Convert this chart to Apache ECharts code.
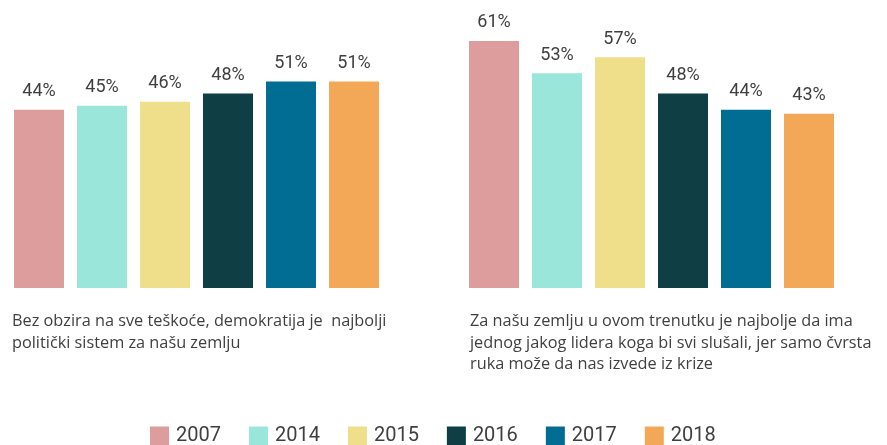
<!DOCTYPE html>
<html>
<head>
<meta charset="utf-8">
<script src="https://cdn.jsdelivr.net/npm/echarts@6/dist/echarts.min.js"></script>
<style>
  html, body { margin: 0; padding: 0; background: #ffffff; }
  #chart { width: 887px; height: 445px; }
</style>
</head>
<body>
<div id="chart"></div>
<script>
// Survey years (one series per year)
const years = ['2007', '2014', '2015', '2016', '2017', '2018'];
const yearColors = ['#dc9d9c', '#9ae6da', '#efde8a', '#0f3f44', '#026d92', '#f3a858'];

// Share of respondents who agree with each statement (%)
const democracyValues = [44, 45, 46, 48, 51, 51];
const strongLeaderValues = [61, 53, 57, 48, 44, 43];

// Statement captions shown below each group
const democracyCaption = 'Bez obzira na sve teškoće, demokratija je  najbolji\npolitički sistem za našu zemlju';
const strongLeaderCaption = 'Za našu zemlju u ovom trenutku je najbolje da ima\njednog jakog lidera koga bi svi slušali, jer samo čvrsta\nruka može da nas izvede iz krize';

const textColor = '#3f3f3f';
const fontFamily = 'Roboto, "Noto Sans", sans-serif';
const captionFont = '"Open Sans", "Noto Sans", sans-serif';

const groups = [democracyValues, strongLeaderValues];

const series = [];
years.forEach((year, i) => {
  groups.forEach((values, g) => {
    series.push({
      name: year,
      type: 'bar',
      xAxisIndex: g,
      yAxisIndex: g,
      data: [values[i]],
      barWidth: 50,
      barGap: '26%',
      itemStyle: { color: yearColors[i] },
      label: {
        show: true,
        position: 'top',
        distance: 9,
        formatter: '{c}%',
        color: textColor,
        fontFamily: fontFamily,
        fontSize: 18
      },
      emphasis: { disabled: true }
    });
  });
});

const hiddenCategoryAxis = (gridIndex) => ({
  type: 'category',
  gridIndex: gridIndex,
  data: [''],
  show: false
});
const hiddenValueAxis = (gridIndex) => ({
  type: 'value',
  gridIndex: gridIndex,
  min: 0,
  max: 70,
  show: false
});

const chart = echarts.init(document.getElementById('chart'));
chart.setOption({
  animation: false,
  textStyle: { fontFamily: fontFamily },
  grid: [
    { left: 0, width: 393, top: 4.5, bottom: 157 },
    { left: 460, width: 383, top: 4.5, bottom: 157 }
  ],
  xAxis: [hiddenCategoryAxis(0), hiddenCategoryAxis(1)],
  yAxis: [hiddenValueAxis(0), hiddenValueAxis(1)],
  legend: {
    data: years,
    left: 145,
    top: 421,
    itemWidth: 19,
    itemHeight: 19,
    itemGap: 28,
    icon: 'rect',
    selectedMode: false,
    textStyle: { color: textColor, fontSize: 20, fontFamily: fontFamily, padding: [0, 0, 0, 2] }
  },
  graphic: [
    {
      type: 'text',
      left: 12,
      top: 311,
      style: {
        text: democracyCaption,
        fill: textColor,
        font: '16.3px ' + captionFont,
        lineHeight: 21.5
      }
    },
    {
      type: 'text',
      left: 470,
      top: 311,
      style: {
        text: strongLeaderCaption,
        fill: textColor,
        font: '16.3px ' + captionFont,
        lineHeight: 21.5
      }
    }
  ],
  series: series
});
</script>
</body>
</html>
